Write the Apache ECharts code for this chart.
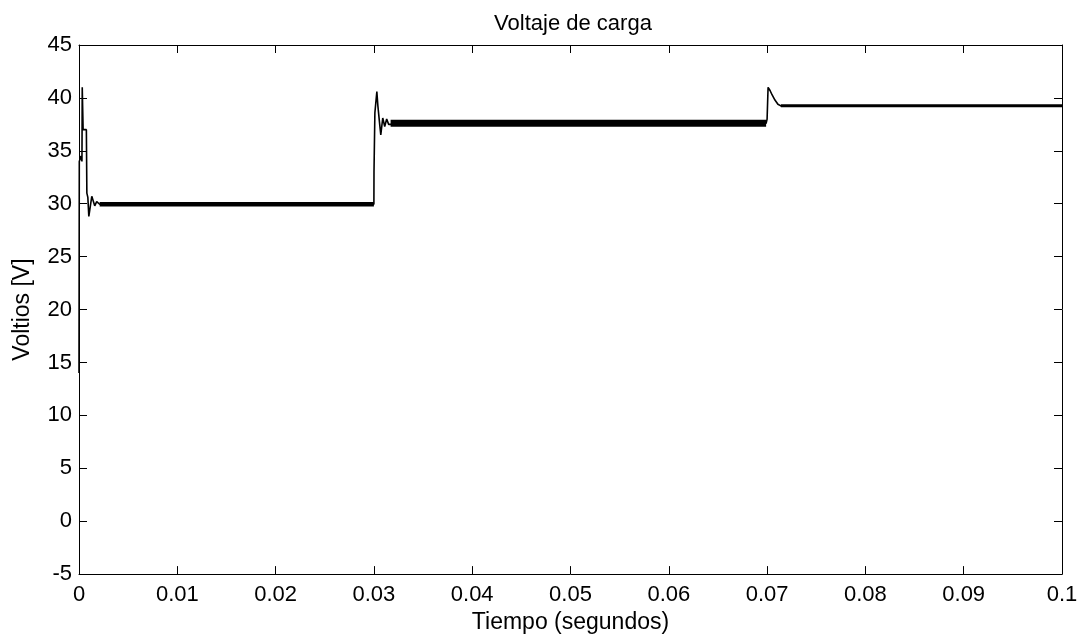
<!DOCTYPE html>
<html>
<head>
<meta charset="utf-8">
<title>Voltaje de carga</title>
<script src="https://cdn.jsdelivr.net/npm/echarts@6/dist/echarts.min.js"></script>
<style>
  html, body { margin: 0; padding: 0; background: #fff; }
  #chart { width: 1086px; height: 639px; }
</style>
</head>
<body>
<div id="chart"></div>
<script>
// tiempo (s) y voltaje (V) de la traza principal
const tiempo = [
  0, 0.00003, 0.0002, 0.0003, 0.00033, 0.00038, 0.00042, 0.00075, 0.0008, 0.0009,
  0.001, 0.0013, 0.0016, 0.0018, 0.0021, 0.0300,
  0.03001, 0.0301, 0.0303, 0.0304, 0.0306, 0.0307, 0.0309, 0.0311, 0.0313, 0.0315, 0.0317, 0.0699,
  0.07, 0.0701, 0.0703, 0.0705, 0.0708, 0.0711, 0.0714, 0.1
]
const voltaje = [
  14, 34, 34.5, 34, 41, 41, 37, 37, 31, 30.6,
  28.8, 30.7, 29.8, 30.2, 29.95, 29.95,
  33, 38.6, 40.6, 39.3, 37.4, 36.5, 38.1, 37.3, 38.0, 37.5, 37.6, 37.6,
  38.0, 41.0, 40.7, 40.3, 39.8, 39.4, 39.25, 39.25
]

// tramos estacionarios (con rizado)
const mesetaInicio = [0.0021, 0.0317, 0.0714]
const mesetaFin = [0.0300, 0.0699, 0.1]
const mesetaNivel = [29.95, 37.6, 39.25]

// ejes
const ejeX = { min: 0, max: 0.1, interval: 0.01 }
const ejeY = { min: -5, max: 45, interval: 5 }

const fuente = 'Liberation Sans, Arial, Helvetica, sans-serif'
const anchoRizado = [4.5, 7, 3] // grosor visual del rizado en cada meseta

const chart = echarts.init(document.getElementById('chart'), null, { renderer: 'canvas' })

const lineaEje = { show: true, onZero: false, lineStyle: { color: '#000', width: 1 } }
const marca = { show: true, inside: true, length: 8, lineStyle: { color: '#000', width: 1 } }

const serieMesetas = mesetaInicio.map((ini, i) => ({
  type: 'line',
  showSymbol: false,
  silent: true,
  data: [[ini, mesetaNivel[i]], [mesetaFin[i], mesetaNivel[i]]],
  lineStyle: { color: '#000', width: anchoRizado[i] },
}))

chart.setOption({
  animation: false,
  backgroundColor: '#fff',
  title: {
    text: 'Voltaje de carga',
    left: 568,
    top: 8,
    textAlign: 'center',
    textStyle: { fontFamily: fuente, fontSize: 22, fontWeight: 'normal', color: '#000' },
  },
  grid: { left: 79, right: 24, top: 45, bottom: 64 },
  xAxis: [
    {
      type: 'value',
      ...ejeX,
      name: 'Tiempo (segundos)',
      nameLocation: 'middle',
      nameGap: 34,
      nameTextStyle: { fontFamily: fuente, fontSize: 23, color: '#000' },
      axisLine: lineaEje,
      axisTick: marca,
      axisLabel: {
        fontFamily: fuente, fontSize: 22, color: '#000', margin: 10,
        formatter: v => String(+v.toFixed(2)),
      },
      splitLine: { show: false },
    },
    {
      type: 'value',
      ...ejeX,
      position: 'top',
      axisLine: lineaEje,
      axisTick: marca,
      axisLabel: { show: false },
      splitLine: { show: false },
    },
  ],
  yAxis: [
    {
      type: 'value',
      ...ejeY,
      name: 'Voltios [V]',
      nameLocation: 'middle',
      nameGap: 45,
      nameTextStyle: { fontFamily: fuente, fontSize: 23, color: '#000' },
      axisLine: lineaEje,
      axisTick: marca,
      axisLabel: { fontFamily: fuente, fontSize: 22, color: '#000', margin: 7 },
      splitLine: { show: false },
    },
    {
      type: 'value',
      ...ejeY,
      position: 'right',
      axisLine: lineaEje,
      axisTick: marca,
      axisLabel: { show: false },
      splitLine: { show: false },
    },
  ],
  series: [
    {
      type: 'line',
      showSymbol: false,
      data: tiempo.map((t, i) => [t, voltaje[i]]),
      lineStyle: { color: '#000', width: 1.6 },
    },
    ...serieMesetas,
  ],
})
</script>
</body>
</html>
